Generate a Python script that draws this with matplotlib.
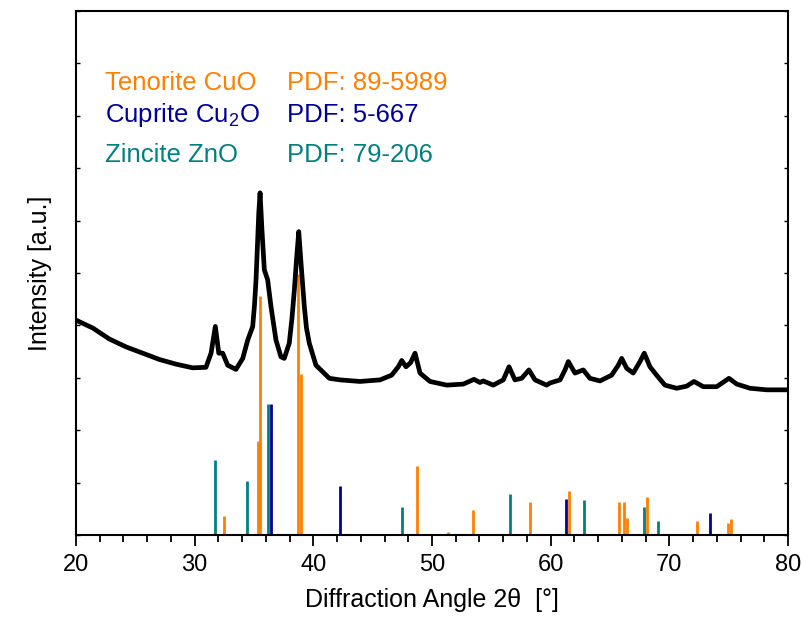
import matplotlib
matplotlib.use("Agg")
import matplotlib.pyplot as plt
from matplotlib.ticker import MultipleLocator, NullFormatter

plt.rcParams["font.family"] = ["Liberation Sans", "DejaVu Sans"]
plt.rcParams["mathtext.fontset"] = "custom"
plt.rcParams["mathtext.rm"] = "Liberation Sans"
plt.rcParams["mathtext.it"] = "Liberation Sans:italic"

two_theta = [20.00, 21.41, 22.81, 24.21, 25.62, 27.02, 28.43, 29.83, 30.95,
             31.38, 31.74, 32.03, 32.36, 32.78, 33.48, 34.05, 34.47, 34.89,
             35.04, 35.17, 35.29, 35.40, 35.51, 35.67, 35.87, 36.15, 36.43,
             36.85, 37.27, 37.55, 37.97, 38.20, 38.40, 38.60, 38.77, 38.96,
             39.24, 39.42, 39.66, 40.22, 41.35, 42.25, 43.93, 45.62, 46.60,
             47.16, 47.45, 47.81, 48.20, 48.57, 48.99, 49.83, 51.24, 52.64,
             53.54, 54.04, 54.32, 55.16, 56.01, 56.49, 56.99, 57.56, 58.17,
             58.68, 59.66, 59.94, 60.79, 61.21, 61.49, 62.05, 62.75, 63.31,
             64.16, 65.14, 65.70, 65.99, 66.41, 66.96, 67.53, 67.89, 68.37,
             68.93, 69.63, 70.62, 71.46, 72.08, 72.86, 73.99, 75.03, 75.68,
             76.80, 78.21, 79.75, 80.00]
intensity = [4.10, 3.95, 3.74, 3.59, 3.47, 3.35, 3.26, 3.19, 3.20,
             3.47, 3.98, 3.47, 3.47, 3.24, 3.16, 3.37, 3.72, 3.98,
             4.39, 4.87, 5.53, 6.14, 6.53, 5.82, 5.06, 4.87, 4.36,
             3.72, 3.40, 3.37, 3.66, 4.14, 4.68, 5.31, 5.79, 5.19,
             4.36, 3.95, 3.66, 3.24, 2.99, 2.96, 2.93, 2.96, 3.05,
             3.21, 3.33, 3.21, 3.29, 3.47, 3.09, 2.93, 2.86, 2.88,
             2.97, 2.91, 2.94, 2.86, 2.96, 3.21, 2.96, 2.99, 3.15,
             2.96, 2.86, 2.90, 2.96, 3.15, 3.31, 3.09, 3.15, 2.99,
             2.94, 3.05, 3.24, 3.37, 3.18, 3.09, 3.31, 3.47, 3.21,
             3.05, 2.86, 2.80, 2.84, 2.93, 2.83, 2.83, 2.99, 2.88,
             2.80, 2.77, 2.77, 2.77]

# reference sticks (PDF cards), heights as drawn
cuo_pos = [32.50, 35.36, 35.53, 38.71, 38.92, 48.70, 51.35, 53.48, 58.25,
           61.52, 65.80, 66.15, 66.40, 68.08, 72.35, 74.95, 75.18]
cuo_int = [0.36, 1.80, 4.56, 4.99, 3.07, 1.32, 0.06, 0.47, 0.63,
           0.84, 0.63, 0.63, 0.32, 0.73, 0.27, 0.22, 0.31]
cu2o_pos = [36.40, 42.28, 61.30, 73.45]
cu2o_int = [2.50, 0.93, 0.69, 0.42]
zno_pos = [31.74, 34.40, 36.22, 47.50, 56.55, 62.80, 67.88, 69.02]
zno_int = [1.44, 1.03, 2.50, 0.53, 0.78, 0.67, 0.53, 0.27]

phases = ["Tenorite CuO", "Cuprite Cu$_2$O", "Zincite ZnO"]
cards = ["PDF: 89-5989", "PDF: 5-667", "PDF: 79-206"]
colours = ["#FF8000", "#000099", "#008080"]
label_y = [8.49, 7.89, 7.12]

fig = plt.figure(figsize=(8.02, 6.23), dpi=100)
ax = fig.add_axes([0.0948, 0.1413, 0.8877, 0.8410])

ax.vlines(zno_pos, 0, zno_int, color=colours[2], linewidth=2.0, zorder=2)
ax.vlines(cuo_pos, 0, cuo_int, color=colours[0], linewidth=2.0, zorder=2)
ax.vlines(cu2o_pos, 0, cu2o_int, color=colours[1], linewidth=2.0, zorder=2)

# thick line stands in for the noisy band of the raw scan
ax.plot(two_theta, intensity, color="black", linewidth=3.4,
        solid_joinstyle="round", zorder=3)

# phase labels
for name, card, col, yb in zip(phases, cards, colours, label_y):
    ax.text(22.44, yb, name, color=col, fontsize=18.5, va="baseline")
    ax.text(37.78, yb, card, color=col, fontsize=18.5, va="baseline")

ax.set_xlim(20, 80)
ax.set_ylim(0, 10)
ax.xaxis.set_major_locator(MultipleLocator(10))
ax.xaxis.set_minor_locator(MultipleLocator(2))
ax.yaxis.set_major_locator(MultipleLocator(1))
ax.yaxis.set_major_formatter(NullFormatter())
ax.tick_params(axis="x", which="major", direction="out", length=8,
               width=1.3, labelsize=17, pad=6)
ax.tick_params(axis="x", which="minor", direction="out", length=5,
               width=1.3)
ax.tick_params(axis="y", which="major", direction="in", length=3,
               width=1.0, left=True, right=True)

for s in ax.spines.values():
    s.set_linewidth(1.5)

ax.set_xlabel("Diffraction Angle 2\u03b8  [\u00b0]", fontsize=18, labelpad=8)
ax.set_ylabel("Intensity [a.u.]", fontsize=18, labelpad=14)

fig.savefig("out.png", dpi=100)
